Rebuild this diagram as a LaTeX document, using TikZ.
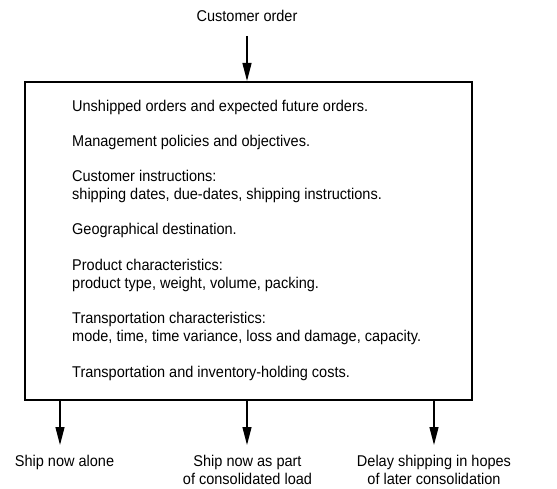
\documentclass[tikz,border=0pt]{standalone}
\usepackage{fontspec}
\setmainfont[FakeStretch=0.93]{Liberation Sans}
\usetikzlibrary{arrows.meta}
\begin{document}
\begin{tikzpicture}[x=1pt,y=1pt,
  txt/.style={font=\fontsize{15.6pt}{18pt}\selectfont, inner sep=0pt, anchor=base west},
  lbl/.style={font=\fontsize{15.6pt}{18pt}\selectfont, inner sep=0pt, align=center},
  arr/.style={line width=1.3pt, -{Triangle[length=18pt,width=9pt]}},
  box/.style={draw, line width=1.8pt, minimum width=447pt, minimum height=318pt, inner sep=0pt, anchor=north west}
]
\useasboundingbox (0,0) rectangle (557,488);
\node[box] (box) at (24,407) {};
\node[lbl, anchor=base] (order) at (247,466) {Customer order};
\coordinate (intop) at (247,452);
\node[txt] (t1) at (72,376) {Unshipped orders and expected future orders.};
\node[txt] (t2) at (72,341) {Management policies and objectives.};
\node[txt] (t3) at (72,306) {Customer instructions:};
\node[txt] (t3b) at (72,288) {shipping dates, due-dates, shipping instructions.};
\node[txt] (t4) at (72,253) {Geographical destination.};
\node[txt] (t5) at (72,217.5) {Product characteristics:};
\node[txt] (t5b) at (72,199.5) {product type, weight, volume, packing.};
\node[txt] (t6) at (72,164.5) {Transportation characteristics:};
\node[txt] (t6b) at (72,146.5) {mode, time, time variance, loss and damage, capacity.};
\node[txt] (t7) at (72,111) {Transportation and inventory-holding costs.};
\draw[arr] (intop) -- (box.north -| intop);
\coordinate (o1) at (60,89);
\coordinate (o2) at (247,89);
\coordinate (o3) at (434,89);
\coordinate (e1) at (60,43);
\coordinate (e2) at (247,43);
\coordinate (e3) at (434,43);
\draw[arr] (o1) -- (e1);
\draw[arr] (o2) -- (e2);
\draw[arr] (o3) -- (e3);
\node[lbl, anchor=base] (a1) at (64.5,21.5) {Ship now alone};
\node[lbl, anchor=base] (a2) at (247.5,21.5) {Ship now as part};
\node[lbl, anchor=base] (a2b) at (247.5,3.5) {of consolidated load};
\node[lbl, anchor=base] (a3) at (434,21.5) {Delay shipping in hopes};
\node[lbl, anchor=base] (a3b) at (434,3.5) {of later consolidation};
\end{tikzpicture}
\end{document}
